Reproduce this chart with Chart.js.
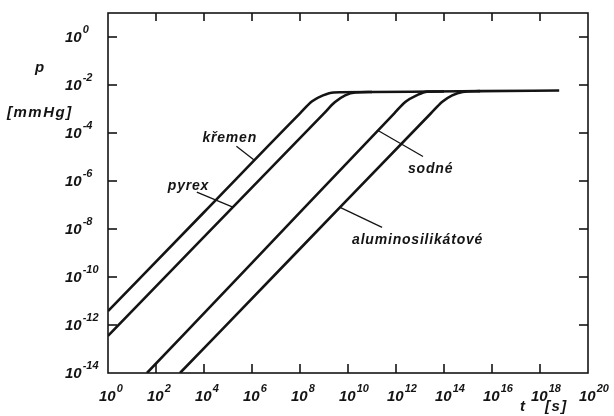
<!DOCTYPE html>
<html>
<head>
<meta charset="utf-8">
<script src="https://cdn.jsdelivr.net/npm/chart.js@4.4.1/dist/chart.umd.min.js"></script>
<style>
  html, body { margin: 0; padding: 0; background: #fff; }
  canvas { display: block; }
</style>
</head>
<body>
<canvas id="chart" width="614" height="416"></canvas>
<script>
// t [s] and p [mmHg]
const kremenT = [1e0, 1e4, 1e8, 3.2e8, 9.1e8, 2.5e9, 1e11, 3.2e13, 3.2e15, 6.3e18]
const kremenP = [3.8e-12, 5.0e-8, 6.6e-4, 2.1e-3, 3.7e-3, 4.9e-3, 5.1e-3, 5.35e-3, 5.55e-3, 5.9e-3]

const pyrexT = [1e0, 1e4, 1e9, 2.8e9, 7.6e9, 2.0e10, 1e11]
const pyrexP = [3.5e-13, 4.7e-9, 6.6e-4, 1.9e-3, 3.7e-3, 4.9e-3, 5.1e-3]

const sodneT = [42, 1e6, 8.5e11, 2.5e12, 7.2e12, 2.0e13, 1e14]
const sodneP = [1e-14, 3.9e-10, 6.6e-4, 2.0e-3, 3.7e-3, 5.3e-3, 5.4e-3]

const aluT = [1e3, 1e8, 2.8e13, 8.5e13, 2.2e14, 6.0e14, 3.2e15]
const aluP = [1e-14, 1.5e-9, 6.5e-4, 2.0e-3, 3.7e-3, 5.1e-3, 5.55e-3]

const xTicks = [1e0, 1e2, 1e4, 1e6, 1e8, 1e10, 1e12, 1e14, 1e16, 1e18, 1e20]
const yTicks = [1e0, 1e-2, 1e-4, 1e-6, 1e-8, 1e-10, 1e-12, 1e-14]

const ink = '#141414'
const font = '"Liberation Sans", "DejaVu Sans", sans-serif'

// curve labels: where the pointer touches the curve (t), pointer end and text offset in px
const notes = [
    { text: 'křemen', t: kremenT, p: kremenP, at: 10 ** 6.1, dx: -18, dy: -14, tx: -52, ty: -18 },
    { text: 'pyrex', t: pyrexT, p: pyrexP, at: 10 ** 5.2, dx: -36, dy: -15, tx: -65, ty: -17 },
    { text: 'sodné', t: sodneT, p: sodneP, at: 10 ** 11.25, dx: 45, dy: 26, tx: 30, ty: 43 },
    { text: 'aluminosilikátové', t: aluT, p: aluP, at: 10 ** 9.67, dx: 42, dy: 20, tx: 12, ty: 37 }
]

const pairs = (ts, ps) => ts.map((t, i) => ({ x: t, y: ps[i] }))

function logInterp(ts, ps, t) {
    const lt = Math.log10(t)
    for (let i = 1; i < ts.length; i++) {
        const a = Math.log10(ts[i - 1]), b = Math.log10(ts[i])
        if (lt <= b) {
            const f = (lt - a) / (b - a)
            const pa = Math.log10(ps[i - 1]), pb = Math.log10(ps[i])
            return 10 ** (pa + f * (pb - pa))
        }
    }
    return ps[ps.length - 1]
}

function powerLabel(ctx, v, x, y) {
    const e = Math.round(Math.log10(v))
    ctx.font = 'italic bold 15px ' + font
    ctx.fillText('10', x, y)
    const w = ctx.measureText('10').width
    ctx.font = 'italic bold 11px ' + font
    ctx.fillText(String(e), x + w + 1, y - 9)
}

const frame = {
    id: 'frame',
    afterDraw(chart) {
        const { ctx, chartArea: a, scales: { x, y } } = chart
        ctx.save()
        ctx.strokeStyle = ink
        ctx.fillStyle = ink
        ctx.lineWidth = 1.6
        ctx.strokeRect(a.left, a.top, a.right - a.left, a.bottom - a.top)

        const seg = (x1, y1, x2, y2) => {
            ctx.beginPath()
            ctx.moveTo(x1, y1)
            ctx.lineTo(x2, y2)
            ctx.stroke()
        }

        // inward ticks on all four sides
        xTicks.forEach(v => {
            const px = x.getPixelForValue(v)
            if (px > a.left + 2 && px < a.right - 2) {
                seg(px, a.bottom, px, a.bottom - 9)
                seg(px, a.top, px, a.top + 8)
            }
        })
        yTicks.forEach(v => {
            const py = y.getPixelForValue(v)
            if (py > a.top + 2 && py < a.bottom - 2) {
                seg(a.left, py, a.left + 9, py)
                seg(a.right, py, a.right - 9, py)
            }
        })

        ctx.textAlign = 'left'
        ctx.textBaseline = 'alphabetic'
        xTicks.forEach(v => powerLabel(ctx, v, x.getPixelForValue(v) - 9, a.bottom + 28))
        yTicks.forEach(v => powerLabel(ctx, v, 65, y.getPixelForValue(v) + 5))

        // axis titles
        ctx.font = 'italic bold 15px ' + font
        ctx.fillText('p', 35, 72)
        ctx.letterSpacing = '1.5px'
        ctx.fillText('[mmHg]', 7, 117)
        ctx.fillText('t', 520, 411)
        ctx.fillText('[s]', 545, 411)

        // curve labels with pointers
        ctx.lineWidth = 1.3
        ctx.letterSpacing = '0.8px'
        ctx.font = 'italic bold 14px ' + font
        notes.forEach(n => {
            const px = x.getPixelForValue(n.at)
            const py = y.getPixelForValue(logInterp(n.t, n.p, n.at))
            seg(px + n.dx, py + n.dy, px, py)
            ctx.fillText(n.text, px + n.tx, py + n.ty)
        })
        ctx.restore()
    }
}

const line = (label, ts, ps) => ({
    label,
    data: pairs(ts, ps),
    borderColor: ink,
    borderWidth: 2.6,
    pointRadius: 0,
    fill: false,
    cubicInterpolationMode: 'monotone'
})

new Chart(document.getElementById('chart'), {
    type: 'line',
    data: {
        datasets: [
            line('křemen', kremenT, kremenP),
            line('pyrex', pyrexT, pyrexP),
            line('sodné', sodneT, sodneP),
            line('aluminosilikátové', aluT, aluP)
        ]
    },
    options: {
        responsive: false,
        animation: false,
        devicePixelRatio: 1,
        layout: { padding: { top: 13, right: 26, left: 0, bottom: 0 } },
        plugins: { legend: { display: false }, tooltip: { enabled: false } },
        scales: {
            x: {
                type: 'logarithmic',
                min: 1,
                max: 1e20,
                grid: { display: false },
                border: { display: false },
                ticks: { display: false },
                afterFit: s => { s.height = 43 }
            },
            y: {
                type: 'logarithmic',
                min: 1e-14,
                max: 10,
                grid: { display: false },
                border: { display: false },
                ticks: { display: false },
                afterFit: s => { s.width = 108 }
            }
        }
    },
    plugins: [frame]
})
</script>
</body>
</html>
